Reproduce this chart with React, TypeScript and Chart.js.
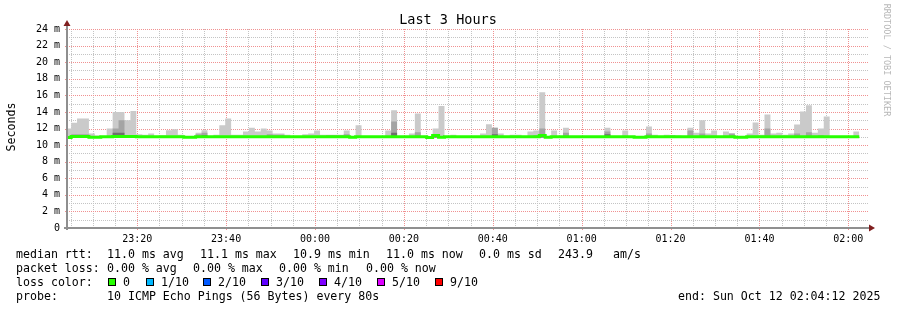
import React, { useEffect, useRef } from 'react';
import { Chart, registerables } from 'chart.js';

Chart.register(...registerables);

// ---------- text ----------
const TITLE = 'Last 3 Hours';
const Y_TITLE = 'Seconds';
const WATERMARK = 'RRDTOOL / TOBI OETIKER';

// ---------- time axis (minutes after 00:00 of Oct 11) ----------
const X_MIN = 1384.2; // 23:04:12
const X_MAX = 1564.2; // 02:04:12
const FIRST_STEP = 1383.8; // start of first 80 s step
const STEP = 80 / 60;
const xLabelMinutes = [1400, 1420, 1440, 1460, 1480, 1500, 1520, 1540, 1560];
const xTickLabels = ['23:20', '23:40', '00:00', '00:20', '00:40', '01:00', '01:20', '01:40', '02:00'];
const xGridMinutes: number[] = [];
for (let v = 1385; v <= 1560; v += 5) xGridMinutes.push(v);

// ---------- value axis (ms) ----------
const yTickValues = [0, 2, 4, 6, 8, 10, 12, 14, 16, 18, 20, 22, 24];
const yTickLabels = ['0', '2 m', '4 m', '6 m', '8 m', '10 m', '12 m', '14 m', '16 m', '18 m', '20 m', '22 m', '24 m'];
const yGridValues: number[] = [];
for (let v = 0; v <= 24; v += 1) yGridValues.push(v);

// ---------- series (ms, one per 80 s step) ----------
const medianRtt = [
  10.9, 11.05, 11.05, 11.05, 10.95, 10.95, 11.0, 11.0, 11.05, 11.05,
  11.05, 11.05, 11.0, 11.0, 11.0, 11.0, 11.0, 11.0, 11.0, 11.0,
  10.95, 10.95, 11.0, 11.0, 11.0, 11.0, 11.0, 11.0, 11.0, 11.0,
  11.0, 11.0, 11.0, 11.0, 11.0, 11.0, 11.0, 11.0, 11.0, 11.0,
  11.0, 11.0, 11.0, 11.0, 11.0, 11.0, 11.0, 11.0, 10.95, 11.0,
  11.0, 11.0, 11.0, 11.0, 11.0, 11.0, 11.0, 11.0, 11.0, 11.0,
  11.0, 10.9, 11.15, 10.95, 11.0, 11.0, 11.0, 11.0, 11.0, 11.0,
  11.0, 11.0, 11.0, 11.0, 11.0, 11.0, 11.0, 11.0, 11.0, 11.0,
  11.15, 10.95, 11.0, 11.0, 11.0, 11.0, 11.0, 11.0, 11.0, 11.0,
  11.0, 11.0, 11.0, 11.0, 11.0, 11.0, 10.95, 10.95, 11.0, 11.0,
  11.0, 11.0, 11.0, 11.0, 11.0, 11.0, 11.0, 11.0, 11.0, 11.0,
  11.0, 11.0, 11.0, 10.95, 10.95, 11.0, 11.0, 11.0, 11.0, 11.0,
  11.0, 11.0, 11.0, 11.0, 11.0, 11.0, 11.0, 11.0, 11.0, 11.0,
  11.0, 11.0, 11.0, 11.0,
];

const smokeMax = [
  12.0, 12.7, 13.2, 13.2, 11.4, 11.15, 11.0, 12.0, 14.0, 14.0,
  13.0, 14.1, 11.3, 11.25, 11.4, 11.0, 11.2, 11.8, 11.9, 11.25,
  11.0, 11.0, 11.5, 11.8, 11.1, 11.25, 12.4, 13.2, 11.25, 11.25,
  11.65, 12.1, 11.65, 12.0, 11.76, 11.4, 11.4, 11.25, 11.1, 11.1,
  11.3, 11.4, 11.76, 11.25, 11.25, 11.25, 11.25, 11.76, 11.0, 12.4,
  11.0, 11.0, 11.0, 11.1, 11.76, 14.2, 11.0, 11.0, 11.4, 13.8,
  11.1, 11.0, 12.0, 14.7, 11.1, 11.25, 11.0, 11.1, 11.0, 11.0,
  11.4, 12.5, 12.1, 11.4, 11.0, 11.25, 11.25, 11.1, 11.65, 11.76,
  16.36, 11.0, 11.76, 11.1, 12.1, 11.0, 11.1, 11.1, 11.0, 11.1,
  11.0, 12.1, 11.0, 11.0, 11.76, 11.0, 11.0, 11.0, 12.24, 11.25,
  11.0, 11.25, 11.1, 11.15, 11.0, 12.1, 11.5, 13.0, 11.4, 11.76,
  11.1, 11.65, 11.4, 11.0, 11.0, 11.4, 12.73, 11.25, 13.7, 11.4,
  11.5, 11.25, 11.4, 12.48, 14.06, 14.79, 11.5, 12.0, 13.45, 11.0,
  11.0, 11.0, 11.0, 11.65,
];

const smokeMid = [
  11.0, 11.3, 11.3, 11.3, 11.0, 11.0, 11.0, 11.0, 12.0, 13.0,
  11.0, 11.0, 11.0, 11.0, 11.0, 11.0, 11.0, 11.0, 11.0, 11.0,
  11.0, 11.0, 11.3, 11.5, 11.0, 11.0, 11.0, 11.0, 11.0, 11.0,
  11.0, 11.0, 11.0, 11.0, 11.3, 11.25, 11.25, 11.0, 11.0, 11.0,
  11.0, 11.0, 11.0, 11.0, 11.2, 11.2, 11.2, 11.3, 11.0, 11.0,
  11.0, 11.0, 11.0, 11.0, 11.0, 12.85, 11.0, 11.0, 11.0, 11.55,
  11.0, 11.0, 11.0, 11.0, 11.0, 11.0, 11.0, 11.0, 11.0, 11.0,
  11.0, 11.0, 12.1, 11.0, 11.0, 11.0, 11.0, 11.0, 11.0, 11.2,
  12.0, 11.0, 11.0, 11.0, 11.5, 11.0, 11.0, 11.0, 11.0, 11.0,
  11.0, 11.65, 11.0, 11.0, 11.0, 11.0, 11.0, 11.0, 11.4, 11.0,
  11.0, 11.0, 11.2, 11.0, 11.0, 11.76, 11.0, 11.4, 11.0, 11.0,
  11.0, 11.0, 11.4, 11.0, 11.0, 11.0, 11.0, 11.0, 12.0, 11.0,
  11.0, 11.0, 11.0, 11.4, 11.0, 11.55, 11.0, 11.2, 11.0, 11.0,
  11.0, 11.0, 11.0, 11.0,
];

const smokeDark = [
  11.0, 11.0, 11.0, 11.0, 11.0, 11.0, 11.0, 11.0, 11.5, 11.5,
  11.0, 11.0, 11.0, 11.0, 11.0, 11.0, 11.0, 11.0, 11.0, 11.0,
  11.0, 11.0, 11.0, 11.2, 11.0, 11.0, 11.0, 11.0, 11.0, 11.0,
  11.0, 11.0, 11.0, 11.0, 11.0, 11.0, 11.0, 11.0, 11.0, 11.0,
  11.0, 11.0, 11.0, 11.0, 11.0, 11.0, 11.0, 11.0, 11.0, 11.0,
  11.0, 11.0, 11.0, 11.0, 11.0, 11.5, 11.0, 11.0, 11.0, 11.0,
  11.0, 11.0, 11.0, 11.0, 11.0, 11.0, 11.0, 11.0, 11.0, 11.0,
  11.0, 11.0, 11.3, 11.0, 11.0, 11.0, 11.0, 11.0, 11.0, 11.0,
  11.0, 11.0, 11.0, 11.0, 11.0, 11.0, 11.0, 11.0, 11.0, 11.0,
  11.0, 11.3, 11.0, 11.0, 11.0, 11.0, 11.0, 11.0, 11.0, 11.0,
  11.0, 11.0, 11.0, 11.0, 11.0, 11.0, 11.0, 11.0, 11.0, 11.0,
  11.0, 11.0, 11.0, 11.0, 11.0, 11.0, 11.0, 11.0, 11.0, 11.0,
  11.0, 11.0, 11.0, 11.0, 11.0, 11.0, 11.0, 11.0, 11.0, 11.0,
  11.0, 11.0, 11.0, 11.0,
];
const SMOKE_BASE = 10.9;

// ---------- legend text ----------
const legendLine1 = ['median rtt:', '11.0 ms avg', '11.1 ms max', '10.9 ms min', '11.0 ms now', '0.0 ms sd', '243.9', 'am/s'];
const legendLine2 = ['packet loss:', '0.00 % avg', '0.00 % max', '0.00 % min', '0.00 % now'];
const lossLabels = ['0', '1/10', '2/10', '3/10', '4/10', '5/10', '9/10'];
const lossColors = ['#26ff00', '#00b8ff', '#0059ff', '#5e00ff', '#7e00ff', '#dd00ff', '#ff0000'];
const lossTitle = 'loss color:';
const probeTitle = 'probe:';
const probeText = '10 ICMP Echo Pings (56 Bytes) every 80s';
const endText = 'end: Sun Oct 12 02:04:12 2025';

// ---------- layout / style (not data) ----------
const line1X = [16, 107, 200, 293, 386, 479, 558, 613];
const line2X = [16, 107, 193, 279, 366];
const swatchX = [108, 146, 203, 261, 319, 377, 435];
const LEG_FONT = '11.6px "DejaVu Sans Mono"';
const MONO = 'DejaVu Sans Mono';
const GRID = 'rgb(196,196,196)';
const MGRID = 'rgb(240,145,145)';
const NONE = 'rgba(0,0,0,0)';

const stepPoints = (vals: number[]) => {
  const pts = vals.map((v, k) => ({ x: FIRST_STEP + k * STEP, y: v }));
  pts.push({ x: FIRST_STEP + vals.length * STEP, y: vals[vals.length - 1] });
  return pts;
};

const fmtX = (v: number) => {
  const i = xLabelMinutes.indexOf(Math.round(v));
  return i >= 0 ? xTickLabels[i] : '';
};
const fmtY = (v: number) => {
  const i = yTickValues.indexOf(Math.round(v * 1000) / 1000);
  return i >= 0 ? yTickLabels[i] : '';
};

const decor = {
  id: 'decor',
  beforeDraw(chart: any) {
    const { ctx, width, height } = chart;
    ctx.save();
    ctx.fillStyle = '#ffffff';
    ctx.fillRect(0, 0, width, height);
    ctx.restore();
  },
  beforeDatasetsDraw(chart: any) {
    const { ctx, chartArea: a, scales } = chart;
    const xs = scales.x;
    const ys = scales.y;
    ctx.save();
    ctx.lineWidth = 1;
    ctx.setLineDash([1, 1]);
    const xMinor = xGridMinutes.filter((v) => v % 20 !== 0);
    const yMinor = yGridValues.filter((v) => v % 2 !== 0);
    const drawV = (v: number) => {
      const px = Math.round(xs.getPixelForValue(v)) + 0.5;
      ctx.beginPath();
      ctx.moveTo(px, a.bottom);
      ctx.lineTo(px, a.top);
      ctx.stroke();
    };
    const drawH = (v: number) => {
      const py = Math.round(ys.getPixelForValue(v)) + 0.5;
      ctx.beginPath();
      ctx.moveTo(a.left, py);
      ctx.lineTo(a.right + 1, py);
      ctx.stroke();
    };
    ctx.strokeStyle = GRID;
    xMinor.forEach(drawV);
    yMinor.forEach(drawH);
    ctx.strokeStyle = MGRID;
    xLabelMinutes.forEach(drawV);
    yTickValues.forEach(drawH);
    ctx.setLineDash([]);
    xLabelMinutes.forEach((v) => {
      const px = Math.round(xs.getPixelForValue(v)) + 0.5;
      ctx.beginPath();
      ctx.moveTo(px, a.bottom);
      ctx.lineTo(px, a.bottom + 2);
      ctx.stroke();
    });
    yTickValues.forEach((v) => {
      const py = Math.round(ys.getPixelForValue(v)) + 0.5;
      ctx.beginPath();
      ctx.moveTo(a.left - 2, py);
      ctx.lineTo(a.left, py);
      ctx.stroke();
    });
    ctx.restore();
  },
  afterDraw(chart: any) {
    const { ctx, chartArea: a } = chart;
    ctx.save();
    // axes
    ctx.fillStyle = '#8f8f8f';
    ctx.fillRect(a.left - 1, a.top - 5, 2, a.bottom - a.top + 7);
    ctx.fillRect(a.left - 3, a.bottom - 1, a.right - a.left + 7, 2);
    // arrows
    ctx.fillStyle = 'rgb(128,31,31)';
    ctx.beginPath();
    ctx.moveTo(a.left - 3.5, a.top - 3);
    ctx.lineTo(a.left + 3.5, a.top - 3);
    ctx.lineTo(a.left, a.top - 9);
    ctx.closePath();
    ctx.fill();
    ctx.beginPath();
    ctx.moveTo(a.right + 2, a.bottom - 3.5);
    ctx.lineTo(a.right + 2, a.bottom + 3.5);
    ctx.lineTo(a.right + 8, a.bottom);
    ctx.closePath();
    ctx.fill();

    // title
    ctx.fillStyle = '#000';
    ctx.font = `13.5px "${MONO}"`;
    ctx.textAlign = 'center';
    ctx.textBaseline = 'alphabetic';
    ctx.fillText(TITLE, 448, 24);

    // y title
    ctx.save();
    ctx.translate(15, 127);
    ctx.rotate(-Math.PI / 2);
    ctx.font = LEG_FONT;
    ctx.fillText(Y_TITLE, 0, 0);
    ctx.restore();

    // watermark
    ctx.save();
    ctx.translate(884, 60);
    ctx.rotate(Math.PI / 2);
    ctx.font = `8.5px "${MONO}"`;
    ctx.fillStyle = 'rgba(0,0,0,0.3)';
    ctx.fillText(WATERMARK, 0, 0);
    ctx.restore();

    // legend
    ctx.textAlign = 'left';
    ctx.font = LEG_FONT;
    ctx.fillStyle = '#000';
    legendLine1.forEach((t, i) => ctx.fillText(t, line1X[i], 258));
    legendLine2.forEach((t, i) => ctx.fillText(t, line2X[i], 272));
    ctx.fillText(lossTitle, 16, 286);
    lossLabels.forEach((t, i) => {
      const x = swatchX[i];
      ctx.fillStyle = '#000';
      ctx.fillRect(x, 278, 8, 8);
      ctx.fillStyle = lossColors[i];
      ctx.fillRect(x + 1, 279, 6, 6);
      ctx.fillStyle = '#000';
      ctx.fillText(t, x + 15, 286);
    });
    ctx.fillText(probeTitle, 16, 300);
    ctx.fillText(probeText, 107, 300);
    ctx.fillText(endText, 678, 300);
    ctx.restore();
  },
};

const smokeSet = (label: string, vals: number[], color: string) => ({
  label,
  data: stepPoints(vals),
  borderColor: NONE,
  borderWidth: 0,
  backgroundColor: color,
  fill: { value: SMOKE_BASE },
  stepped: 'before',
  pointRadius: 0,
  clip: 0,
});

export default function App() {
  const ref = useRef<HTMLCanvasElement>(null);
  useEffect(() => {
    document.body.style.margin = '0';
    const canvas = ref.current!;
    const chart = new Chart(canvas, {
      type: 'line',
      data: {
        datasets: [
          {
            label: 'median',
            data: stepPoints(medianRtt),
            borderColor: '#26ff00',
            borderWidth: 3,
            stepped: 'before',
            pointRadius: 0,
            fill: false,
            clip: 0,
          } as any,
          smokeSet('dark', smokeDark, '#6e6e6e'),
          smokeSet('mid', smokeMid, '#a4a4a4'),
          smokeSet('max', smokeMax, '#cacaca'),
        ],
      },
      options: {
        responsive: false,
        maintainAspectRatio: false,
        animation: false,
        events: [],
        layout: { padding: { left: 0, top: 29, right: 30, bottom: 0 } },
        plugins: { legend: { display: false }, tooltip: { enabled: false }, title: { display: false } },
        scales: {
          x: {
            type: 'linear',
            min: X_MIN,
            max: X_MAX,
            afterBuildTicks: (s: any) => {
              s.ticks = xGridMinutes.map((v) => ({ value: v }));
            },
            afterFit: (s: any) => {
              s.height = 82;
            },
            grid: { drawOnChartArea: false, drawTicks: true, tickLength: 2, color: NONE, tickColor: NONE },
            border: { display: false },
            ticks: {
              autoSkip: false,
              maxRotation: 0,
              minRotation: 0,
              padding: 3,
              color: '#000',
              font: { family: MONO, size: 10 },
              callback: (v: any) => fmtX(Number(v)),
            },
          },
          y: {
            type: 'linear',
            min: 0,
            max: 24,
            afterBuildTicks: (s: any) => {
              s.ticks = yGridValues.map((v) => ({ value: v }));
            },
            afterFit: (s: any) => {
              s.width = 67;
            },
            grid: { drawOnChartArea: false, drawTicks: true, tickLength: 2, color: NONE, tickColor: NONE },
            border: { display: false },
            ticks: {
              autoSkip: false,
              padding: 5,
              color: '#000',
              font: { family: MONO, size: 10 },
              callback: (v: any) => fmtY(Number(v)),
            },
          },
        },
      } as any,
      plugins: [decor],
    });
    return () => chart.destroy();
  }, []);
  return (
    <div style={{ position: 'absolute', left: 0, top: 0, width: 897, height: 310, background: '#fff' }}>
      <canvas ref={ref} width={897} height={310} style={{ display: 'block' }} />
    </div>
  );
}
